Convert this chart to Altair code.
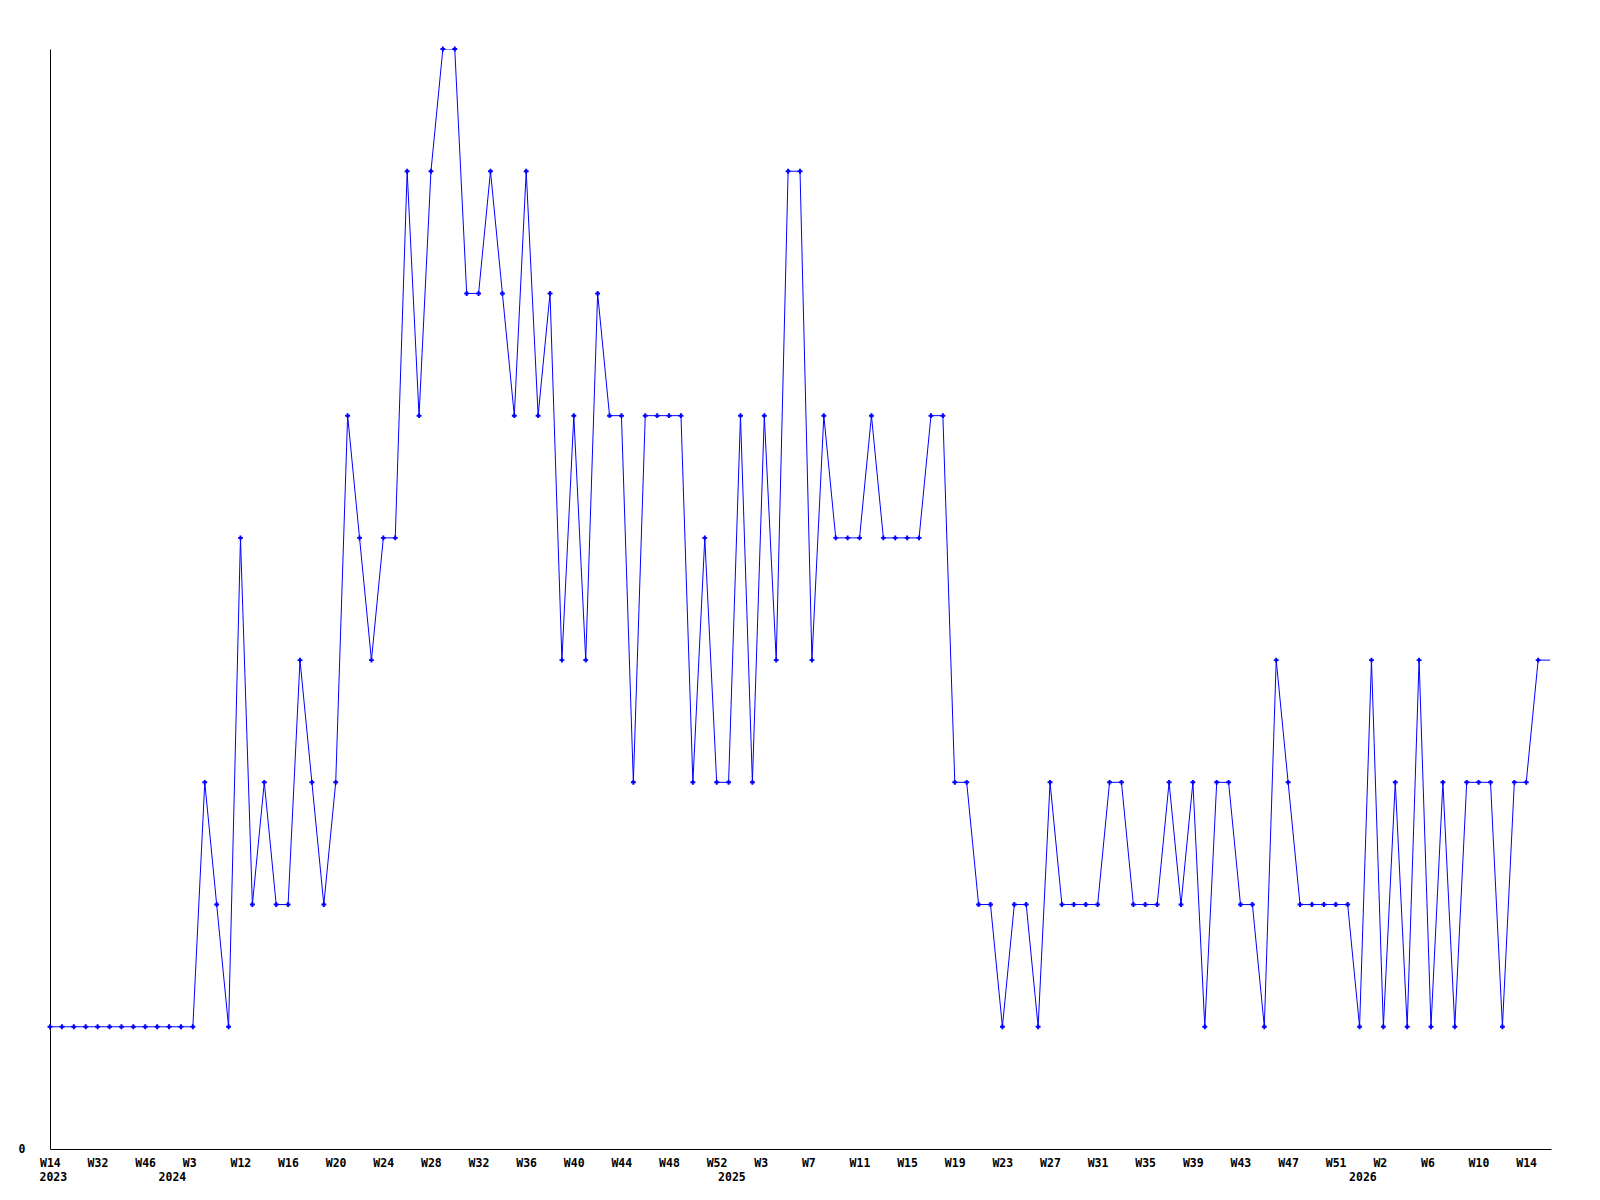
import altair as alt
import pandas as pd

# weekly counts, one entry per sample (evenly spaced)
values = [1, 1, 1, 1, 1, 1, 1, 1, 1, 1, 1, 1, 1,
          3, 2, 1, 5, 2, 3, 2, 2, 4, 3, 2, 3, 6, 5, 4, 5, 5,
          8, 6, 8, 9, 9, 7, 7, 8, 7, 6, 8, 6, 7, 4, 6, 4, 7, 6, 6, 3,
          6, 6, 6, 6, 3, 5, 3, 3, 6, 3, 6, 4, 8, 8, 4, 6, 5, 5, 5, 6,
          5, 5, 5, 5, 6, 6, 3, 3, 2, 2, 1, 2, 2, 1, 3, 2, 2, 2, 2, 3,
          3, 2, 2, 2, 3, 2, 3, 1, 3, 3, 2, 2, 1, 4, 3, 2, 2, 2, 2, 2,
          1, 4, 1, 3, 1, 4, 1, 3, 1, 3, 3, 3, 1, 3, 3, 4, 4]

tick_index = list(range(0, 125, 4))
tick_labels = ["W14", "W32", "W46", "W3", "W12", "W16", "W20", "W24", "W28",
               "W32", "W36", "W40", "W44", "W48", "W52", "W3", "W7", "W11",
               "W15", "W19", "W23", "W27", "W31", "W35", "W39", "W43", "W47",
               "W51", "W2", "W6", "W10", "W14"]

year_labels = ["2023", "2024", "2025", "2026"]
year_index = [0, 10, 57, 110]

df = pd.DataFrame({"i": list(range(len(values))), "v": values})
df_marks = df[df["i"] < len(values) - 1]
df_years = pd.DataFrame({"i": year_index, "t": year_labels})

label_map = "{" + ",".join(f"'{k}':'{l}'" for k, l in zip(tick_index, tick_labels)) + "}"

FONT = "DejaVu Sans Mono"
FS = 11.5
W, H = 1501, 1100

xscale = alt.Scale(domain=[0, 126.08], nice=False, zero=False)
yscale = alt.Scale(domain=[0, 9], nice=False)

x_axis = alt.Axis(values=tick_index, labelExpr=f"{label_map}[datum.value]",
                  ticks=False, grid=False, title=None, domainColor="black",
                  labelFont=FONT, labelFontWeight="bold", labelFontSize=FS,
                  labelAlign="left", labelOffset=-10.5, labelPadding=8,
                  labelBaseline="top", labelColor="black", labelOverlap=False,
                  labelFlush=False)
y_axis = alt.Axis(values=[0], format="d", ticks=False, grid=False, title=None,
                  domainColor="black", labelFont=FONT, labelFontWeight="bold",
                  labelFontSize=FS, labelPadding=25, labelColor="black",
                  labelBaseline="middle")

line = alt.Chart(df).mark_line(color="#0000FF", strokeWidth=1, clip=True).encode(
    x=alt.X("i:Q", scale=xscale, axis=x_axis),
    y=alt.Y("v:Q", scale=yscale, axis=y_axis),
)

pts = alt.Chart(df_marks).mark_point(shape="cross", filled=True, size=24,
                                     color="#0000FF", opacity=1).encode(
    x=alt.X("i:Q", scale=xscale),
    y=alt.Y("v:Q", scale=yscale),
)

years = alt.Chart(df_years).mark_text(font=FONT, fontWeight="bold", fontSize=FS,
                                      align="left", baseline="top", dx=-10.5,
                                      color="black").encode(
    x=alt.X("i:Q", scale=xscale),
    y=alt.value(H + 23),
    text="t:N",
)

chart = alt.layer(line, pts, years).properties(
    width=W, height=H,
    autosize=alt.AutoSizeParams(type="none"),
    padding={"left": 42, "top": 41, "right": 30, "bottom": 50},
).configure(background="white", view=alt.ViewConfig(stroke=None))

chart.save("out.html", embed_options={"renderer": "svg", "actions": False})
